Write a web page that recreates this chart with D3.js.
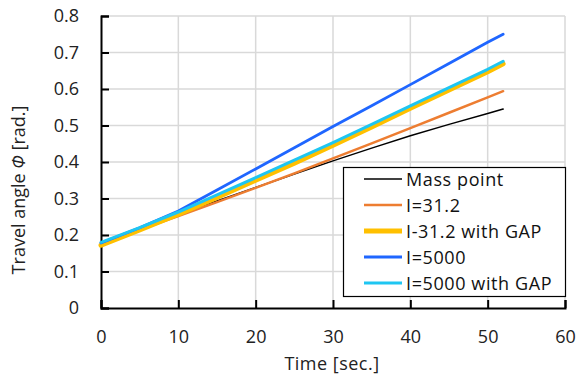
<!DOCTYPE html>
<html><head><meta charset="utf-8">
<script src="https://cdn.jsdelivr.net/npm/d3@7"></script>
<style>body{margin:0;background:#fff}svg{display:block}</style>
</head><body><svg id="c" width="580" height="381"></svg>
<script>
const times = [0, 5, 10, 15, 20, 25, 30, 35, 40, 45, 50, 52];
const massPoint   = [0.175, 0.214, 0.255, 0.293, 0.330, 0.367, 0.403, 0.438, 0.472, 0.503, 0.533, 0.545];
const i312        = [0.178, 0.214, 0.252, 0.290, 0.329, 0.369, 0.410, 0.451, 0.493, 0.535, 0.577, 0.594];
const i312Gap     = [0.172, 0.214, 0.257, 0.303, 0.350, 0.397, 0.446, 0.496, 0.547, 0.597, 0.647, 0.669];
const i5000       = [0.178, 0.220, 0.266, 0.323, 0.381, 0.439, 0.497, 0.554, 0.612, 0.670, 0.728, 0.750];
const i5000Gap    = [0.180, 0.220, 0.263, 0.310, 0.357, 0.405, 0.453, 0.503, 0.554, 0.604, 0.654, 0.676];
const seriesNames = ["Mass point", "I=31.2", "I-31.2 with GAP", "I=5000", "I=5000 with GAP"];
const seriesColors = ["#000000", "#ed7d31", "#ffc000", "#1f66ff", "#1ec6f2"];
const seriesWidths = [1.5, 2.5, 5, 2.8, 3];
const xTicks = [0, 10, 20, 30, 40, 50, 60];
const yTicks = [0, 0.1, 0.2, 0.3, 0.4, 0.5, 0.6, 0.7, 0.8];

const series = [massPoint, i312, i312Gap, i5000, i5000Gap];
const svg = d3.select("#c");
const font = "'Open Sans', sans-serif";
const m = {l:101, r:565, t:16, b:308};
const x = d3.scaleLinear().domain([0, 60]).range([m.l, m.r]);
const y = d3.scaleLinear().domain([0, 0.8]).range([m.b, m.t]);

// grid
svg.append("g").selectAll("line").data(xTicks.slice(1)).join("line")
  .attr("x1", d=>x(d)).attr("x2", d=>x(d)).attr("y1", m.t).attr("y2", m.b)
  .attr("stroke", "#d9d9d9").attr("stroke-width", 1.5);
svg.append("g").selectAll("line").data(yTicks.slice(1)).join("line")
  .attr("x1", m.l).attr("x2", m.r).attr("y1", d=>y(d)).attr("y2", d=>y(d))
  .attr("stroke", "#d9d9d9").attr("stroke-width", 1.5);

// axes
const xAxis = svg.append("g").attr("transform", `translate(0,${m.b})`)
  .call(d3.axisBottom(x).tickValues(xTicks).tickSize(-8).tickPadding(22).tickFormat(d3.format("d")));
const yAxis = svg.append("g").attr("transform", `translate(${m.l},0)`)
  .call(d3.axisLeft(y).tickValues(yTicks).tickSize(-8).tickPadding(22).tickFormat(d=> d===0 ? "0" : d3.format(".1f")(d)));
[xAxis, yAxis].forEach(g=>{
  g.select(".domain").attr("stroke", "#000").attr("stroke-width", 2);
  g.selectAll(".tick line").attr("stroke", "#000").attr("stroke-width", 2);
  g.selectAll("text").attr("font-family", font).attr("font-size", 18).attr("fill", "#222");
});

// lines
const line = d3.line().x((d,i)=>x(times[i])).y(d=>y(d));
series.forEach((s, k)=>{
  svg.append("path").datum(s).attr("d", line).attr("fill", "none")
    .attr("stroke", seriesColors[k]).attr("stroke-width", seriesWidths[k])
    .attr("stroke-linejoin", "round").attr("stroke-linecap", "round");
});

// axis titles
svg.append("text").attr("x", 332).attr("y", 370).attr("text-anchor", "middle")
  .attr("font-family", font).attr("font-size", 18).attr("letter-spacing", 0.5).attr("fill", "#222").text("Time [sec.]");
const yt = svg.append("text").attr("transform", `translate(25,190) rotate(-90)`)
  .attr("text-anchor", "middle").attr("font-family", font).attr("font-size", 18).attr("fill", "#222");
yt.append("tspan").text("Travel angle ");
yt.append("tspan").attr("font-style", "italic").text("Φ");
yt.append("tspan").text(" [rad.]");

// legend
const lg = svg.append("g");
lg.append("rect").attr("x", 343.5).attr("y", 167.5).attr("width", 222).attr("height", 129)
  .attr("fill", "#fff").attr("stroke", "#000").attr("stroke-width", 1.2);
seriesNames.forEach((n, k)=>{
  const yy = 179 + k*26;
  lg.append("line").attr("x1", 364).attr("x2", 402).attr("y1", yy).attr("y2", yy)
    .attr("stroke", seriesColors[k]).attr("stroke-width", seriesWidths[k]);
  lg.append("text").attr("x", 406).attr("y", yy + 6.5)
    .attr("font-family", font).attr("font-size", 18).attr("letter-spacing", 0.6).attr("fill", "#111").text(n);
});
</script></body></html>
